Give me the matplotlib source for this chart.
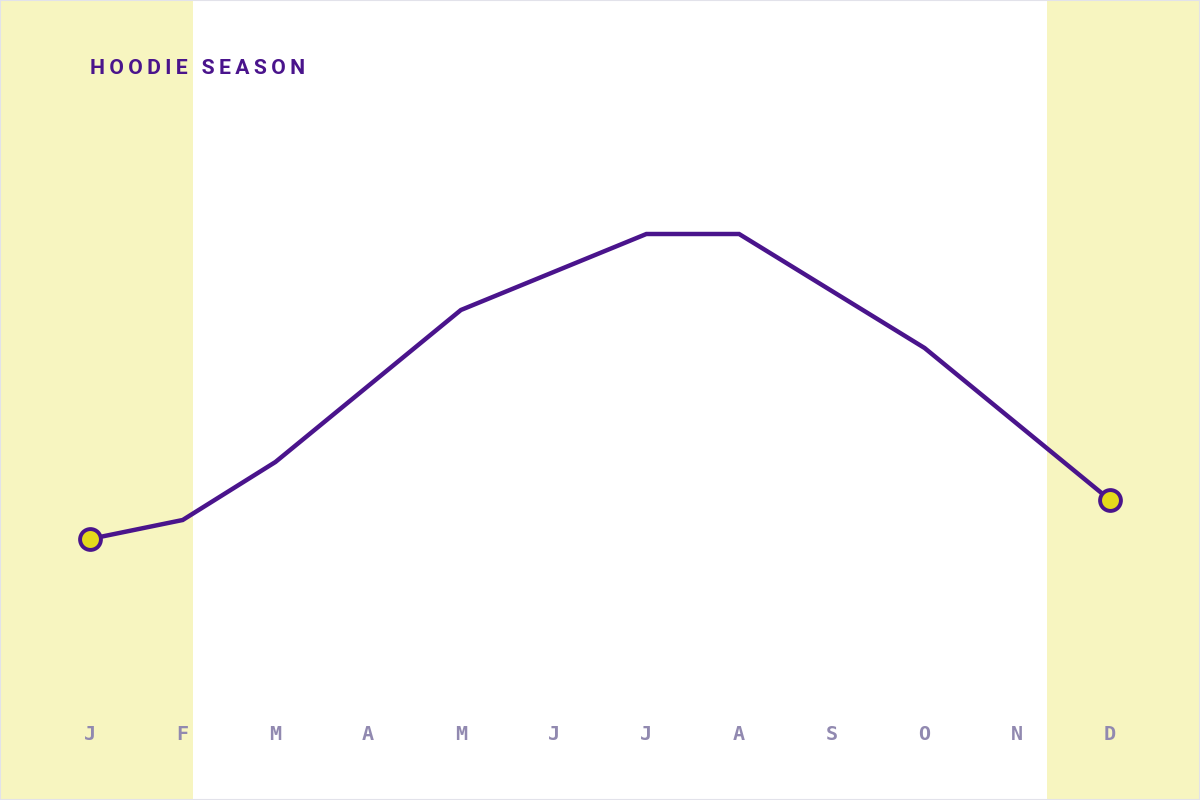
import matplotlib.pyplot as plt
from matplotlib.patches import Rectangle

months = ['J', 'F', 'M', 'A', 'M', 'J', 'J', 'A', 'S', 'O', 'N', 'D']
values = [16.1, 18.0, 23.8, 31.4, 39.0, 42.8, 46.6, 46.6, 40.9, 35.2, 27.6, 20.0]

purple = '#4a148c'
yellow = '#e4d91c'
band = '#f7f5c0'
label_col = '#9189b0'

fig = plt.figure(figsize=(12, 8), dpi=100)
ax = fig.add_axes([0, 0, 1, 1])
ax.set_xlim(-0.97, 11.97)
ax.set_ylim(-10, 70)
ax.axis('off')

# hoodie season bands
ax.axvspan(-0.97, 1.11, color=band, lw=0, zorder=0)
ax.axvspan(10.32, 11.97, color=band, lw=0, zorder=0)

x = list(range(len(months)))
ax.plot(x, values, color=purple, lw=3.2, solid_joinstyle='miter', zorder=2)
ax.plot([x[0], x[-1]], [values[0], values[-1]], 'o', ms=15, mfc=yellow,
        mec=purple, mew=2.8, zorder=3)

for i, m in enumerate(months):
    ax.text(i, -3.5, m, ha='center', va='center', fontsize=14.5,
            fontweight='bold', color=label_col, family='DejaVu Sans Mono')

title = '\u2009'.join('HOODIE') + '\u2009 \u2009' + '\u2009'.join('SEASON')
fig.text(90 / 1200, 1 - 68 / 800, title, ha='left', va='center',
         fontsize=15.2, fontweight='bold', color=purple, family=['Roboto', 'DejaVu Sans'])

fig.patches.append(Rectangle((0, 0), 1, 1, transform=fig.transFigure, fill=False,
                             edgecolor='#e2e2ea', lw=1.5))

fig.savefig('out.png', dpi=100)
